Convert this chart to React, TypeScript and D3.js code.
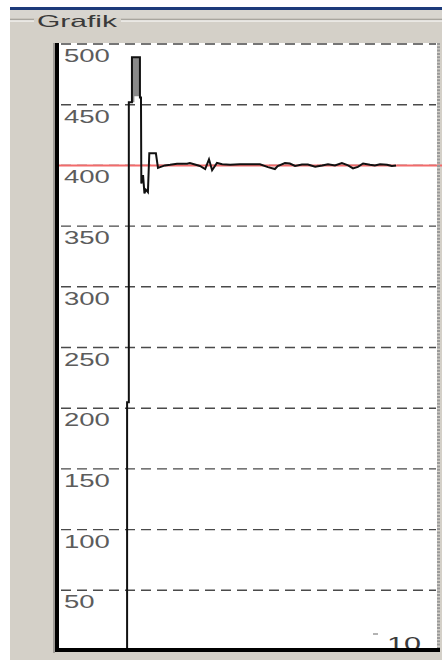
import React from "react";
import * as d3 from "d3";

// ---- data ----
const yTicks = [50, 100, 150, 200, 250, 300, 350, 400, 450, 500];
const xTicks = [10];
const xTickLabels = ["10"];
const setpoint = 400;

const times = [
  0, 2.02, 2.02, 2.07, 2.07, 2.16, 2.16, 2.39, 2.39, 2.42, 2.43, 2.48, 2.52, 2.56, 2.62,
  2.66, 2.85, 2.91, 2.97, 3.11, 3.26, 3.46, 3.75, 3.83, 4.12, 4.27, 4.38, 4.47, 4.61,
  4.76, 4.99, 5.27, 5.56, 5.85, 6.08, 6.28, 6.36, 6.57, 6.71, 6.86, 7.06, 7.23, 7.44,
  7.64, 7.81, 8.01, 8.21, 8.39, 8.53, 8.67, 8.82, 9.02, 9.16, 9.31, 9.51, 9.65, 9.77,
];
const values = [
  0, 0, 205, 205, 452, 452, 489, 489, 456, 456, 385, 392, 377, 380, 378,
  410, 410, 398, 398.6, 400, 400.5, 401.4, 401.4, 402, 399.5, 397, 405, 396, 402,
  401, 400.5, 401, 401, 401, 398.6, 397, 399.5, 402, 401.5, 399.5, 400.8, 400.8, 399,
  400, 401, 400, 402, 400, 397.5, 398.8, 401.6, 400.5, 400, 401, 400.5, 399.5, 400,
];

// fast oscillation burst drawn as a grey band
const burstTimes = [2.16, 2.23, 2.23, 2.39];
const burstLow = [452, 452, 457, 457];
const burstHigh = [489, 489, 489, 489];

const W = 442;
const H = 660;

export default function App() {
  const x = d3.scaleLinear().domain([0, 10]).range([57, 404]);
  const y = d3.scaleLinear().domain([0, 500]).range([651, 44]);

  const plotLeft = 58;
  const plotRight = 437;
  const plotTop = 43;
  const plotBottom = 650;

  const pts = times.map((t, i) => [t, values[i]] as [number, number]);
  const line = d3
    .line<[number, number]>()
    .x((d) => x(d[0]))
    .y((d) => y(d[1]));

  const band = burstTimes.map((t, i) => ({ t, lo: burstLow[i], hi: burstHigh[i] }));
  const area = d3
    .area<{ t: number; lo: number; hi: number }>()
    .x((d) => x(d.t))
    .y0((d) => y(d.lo))
    .y1((d) => y(d.hi));

  const labelFont = "'Liberation Sans', Arial, sans-serif";

  return (
    <svg
      width={W}
      height={H}
      style={{ position: "absolute", left: 0, top: 0, display: "block" }}
    >
      {/* page background */}
      <rect x={0} y={0} width={W} height={H} fill="#ffffff" />
      <rect x={10} y={7} width={W - 10} height={H - 7} fill="#d4d0c8" />
      {/* title bar strip */}
      <rect x={10} y={7} width={W - 10} height={3} fill="#1c3a7a" />
      <rect x={10} y={10} width={W - 10} height={8} fill="#d8d5cf" />
      {/* group box line */}
      <line x1={10} x2={34} y1={19.5} y2={19.5} stroke="#a8a59f" strokeWidth={1.5} />
      <line x1={10} x2={34} y1={21} y2={21} stroke="#ffffff" strokeWidth={1} />
      <line x1={121} x2={W} y1={19.5} y2={19.5} stroke="#a8a59f" strokeWidth={1.5} />
      <line x1={121} x2={W} y1={21} y2={21} stroke="#ffffff" strokeWidth={1} />
      <text
        x={37}
        y={27}
        fontFamily={labelFont}
        fontSize={16.5}
        fill="#3a3a3a"
        textLength={80}
        lengthAdjust="spacingAndGlyphs"
      >
        Grafik
      </text>

      {/* plot area */}
      <rect
        x={plotLeft}
        y={plotTop}
        width={plotRight - plotLeft}
        height={plotBottom - plotTop}
        fill="#ffffff"
      />

      {/* gridlines */}
      {yTicks.map((v) => (
        <line
          key={"g" + v}
          x1={plotLeft}
          x2={plotRight - 1}
          y1={y(v)}
          y2={y(v)}
          stroke="#4a4a4a"
          strokeWidth={1.4}
          strokeDasharray="10 6"
          strokeDashoffset={-3}
        />
      ))}

      {/* y labels */}
      {yTicks.map((v) => {
        const s = String(v);
        return (
          <text
            key={"l" + v}
            x={64}
            y={y(v) + 18}
            fontFamily={labelFont}
            fontSize={19}
            fill="#5c5c5c"
            textLength={s.length * 15.3}
            lengthAdjust="spacingAndGlyphs"
          >
            {s}
          </text>
        );
      })}

      {/* setpoint line */}
      <line
        x1={plotLeft}
        x2={W}
        y1={y(setpoint)}
        y2={y(setpoint)}
        stroke="#f26b6b"
        strokeWidth={2}
      />

      {/* burst band */}
      <path d={area(band) || ""} fill="#8a8a8a" />

      {/* data line */}
      <path
        d={line(pts) || ""}
        fill="none"
        stroke="#111111"
        strokeWidth={2}
        strokeLinejoin="miter"
      />

      {/* x tick label */}
      {xTicks.map((t, i) => (
        <text
          key={"x" + t}
          x={x(t)}
          y={650}
          textAnchor="middle"
          fontFamily={labelFont}
          fontSize={19}
          fill="#3a3a3a"
          textLength={xTickLabels[i].length * 17}
          lengthAdjust="spacingAndGlyphs"
        >
          {xTickLabels[i]}
        </text>
      ))}
      <line x1={373} x2={378} y1={634} y2={634} stroke="#9a9a9a" strokeWidth={1.5} />

      {/* right dotted border */}
      <line
        x1={438.5}
        x2={438.5}
        y1={plotTop}
        y2={652}
        stroke="#9a9a9a"
        strokeWidth={3}
        strokeDasharray="2 1.3"
      />

      {/* axes */}
      <line x1={54} x2={54} y1={plotTop} y2={653} stroke="#8c8a86" strokeWidth={1.5} />
      <line x1={57} x2={57} y1={plotTop} y2={652} stroke="#000000" strokeWidth={4} />
      <line x1={55} x2={plotRight + 3} y1={650} y2={650} stroke="#000000" strokeWidth={4} />
    </svg>
  );
}
